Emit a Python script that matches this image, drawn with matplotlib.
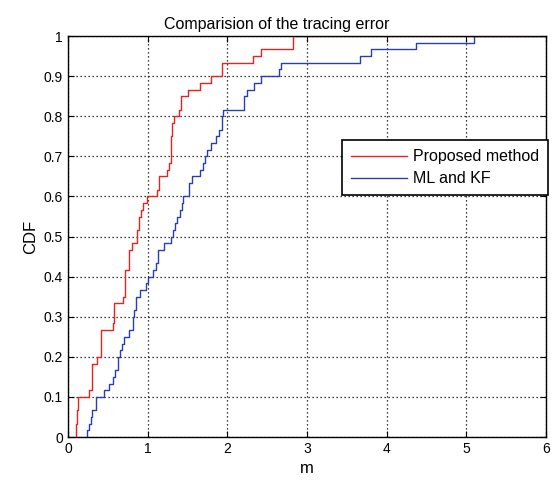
import numpy as np
import matplotlib.pyplot as plt

plt.rcParams['font.family'] = ['Liberation Sans', 'DejaVu Sans']

n_samples = 60

# step positions (m) and cumulative counts
prop_x = [0.097, 0.109, 0.122, 0.264, 0.306, 0.369, 0.41, 0.57, 0.579, 0.696,
          0.717, 0.767, 0.805, 0.872, 0.897, 0.922, 0.947, 0.997, 1.115, 1.14,
          1.249, 1.274, 1.29, 1.308, 1.325, 1.39, 1.417, 1.509, 1.66, 1.795,
          1.929, 2.323, 2.424, 2.82]
prop_n = [2, 4, 6, 7, 11, 12, 16, 17, 20, 21,
          25, 28, 29, 31, 33, 34, 35, 36, 37, 39,
          40, 41, 45, 47, 48, 49, 51, 52, 53, 54,
          56, 57, 58, 60]

mlkf_x = [0.235, 0.26, 0.285, 0.306, 0.352, 0.453, 0.516, 0.562, 0.595, 0.633,
          0.654, 0.679, 0.704, 0.763, 0.813, 0.83, 0.855, 0.906, 0.981, 1.0,
          1.07, 1.107, 1.124, 1.21, 1.29, 1.315, 1.34, 1.37, 1.40, 1.43,
          1.45, 1.518, 1.56, 1.66, 1.69, 1.72, 1.74, 1.79, 1.86, 1.89,
          1.93, 1.95, 2.21, 2.25, 2.33, 2.42, 2.65, 2.68, 3.67, 3.80,
          4.37, 5.10]
mlkf_n = [1, 2, 3, 4, 6, 7, 8, 9, 10, 12,
          13, 14, 15, 16, 18, 19, 21, 22, 23, 24,
          25, 26, 28, 29, 30, 31, 32, 33, 34, 35,
          36, 38, 39, 40, 41, 42, 43, 44, 45, 46,
          48, 49, 51, 52, 53, 54, 55, 56, 57, 58,
          59, 60]

fig = plt.figure(figsize=(5.54, 4.9), dpi=100)
ax = fig.add_axes([0.1227, 0.108, 0.8628, 0.8184])

px = [prop_x[0]] + prop_x
py = [0] + list(np.array(prop_n) / n_samples)
mx = [mlkf_x[0]] + mlkf_x
my = [0] + list(np.array(mlkf_n) / n_samples)

ax.step(px + [6.5], py + [1.0], where='post', color='#e8231f', lw=1.0, label='Proposed method')
ax.step(mx + [6.5], my + [1.0], where='post', color='#2a3fae', lw=1.0, label='ML and KF')

ax.set_xlim(0, 6)
ax.set_ylim(0, 1)
ax.set_xticks(range(7))
ax.set_yticks(np.arange(0, 1.01, 0.1))
ax.set_yticklabels(['0', '0.1', '0.2', '0.3', '0.4', '0.5', '0.6', '0.7', '0.8', '0.9', '1'])
ax.tick_params(direction='in', labelsize=10, length=4, top=True, right=True)
ax.grid(True, color='black', linestyle=(0, (1.0, 2.2)), linewidth=0.9)
for s in ax.spines.values():
    s.set_linewidth(1.0)

# title is centred on the figure, not on the axes
ax.set_title('Comparision of the tracing error', fontsize=11.5, pad=5, x=0.437)
ax.set_xlabel('m', fontsize=12)
ax.set_ylabel('CDF', fontsize=12)

leg = ax.legend(loc='upper right', bbox_to_anchor=(1.004, 0.74), borderaxespad=0,
                fancybox=False, edgecolor='black', framealpha=1, fontsize=11.5,
                borderpad=0.55, handlelength=3.5, handletextpad=0.4, labelspacing=0.45)
leg.get_frame().set_linewidth(1.2)

fig.savefig('out.png', dpi=100)
